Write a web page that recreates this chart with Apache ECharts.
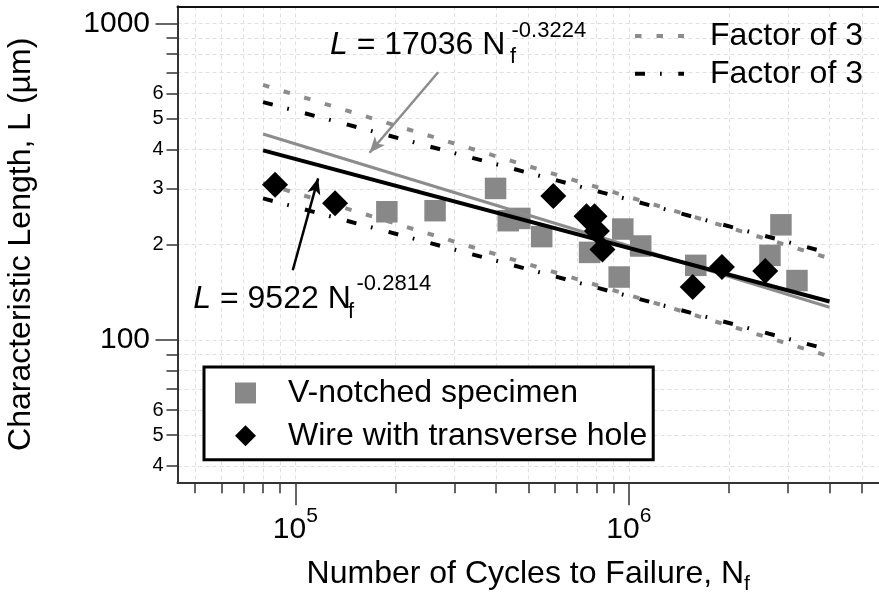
<!DOCTYPE html>
<html><head><meta charset="utf-8">
<script src="https://cdn.jsdelivr.net/npm/echarts@6/dist/echarts.min.js"></script>
<style>html,body{margin:0;padding:0;background:#fff}#c{width:879px;height:592px}</style>
</head><body><div id="c"></div>
<script>
// ---- data ----
const vNotchedN = [1.881e5, 2.624e5, 3.985e5, 4.349e5, 4.712e5, 5.48e5, 7.629e5, 9.594e5, 9.358e5, 1.086e6, 1.588e6, 2.651e6, 2.86e6, 3.195e6];
const vNotchedL = [254, 256, 301, 238, 242, 212, 189, 224, 158, 198, 172, 185, 231, 154];
const wireN = [8.69e4, 1.315e5, 5.937e5, 7.467e5, 7.891e5, 8.027e5, 8.338e5, 1.555e6, 1.903e6, 2.566e6];
const wireL = [309, 270, 285, 246, 246, 221, 193, 147, 170, 165];
const fitN = [8e4, 4e6];
const vFitL = [447, 126.8];     // L = 17036 Nf^-0.3224
const wireFitL = [397, 132.2];  // L = 9522 Nf^-0.2814
const vUpperL = [639, 181];
const vLowerL = [313, 88.7];
const wireUpperL = [564, 188];
const wireLowerL = [280, 93];
const xMajorTicks = [1e5, 1e6];
const xMinorTicks = [5e4, 6e4, 7e4, 8e4, 9e4, 2e5, 3e5, 4e5, 5e5, 6e5, 7e5, 8e5, 9e5, 2e6, 3e6, 4e6, 5e6];
const yMajorTicks = [100, 1000];
const yMinorTicks = [40, 50, 60, 70, 80, 90, 200, 300, 400, 500, 600, 700, 800, 900];
const yMinorLabels = [40, 50, 60, 200, 300, 400, 500, 600];
const xMin = 44300, xMax = 5.63e6, yMin = 35.5, yMax = 1132;
const grayArrow = [[2.68e5, 701], [1.669e5, 390]];
const blackArrow = [[9.82e4, 166], [1.17e5, 324]];

const FONT = "'Liberation Sans', Arial, Helvetica, sans-serif";
const zip = (a, b) => a.map((v, i) => [v, b[i]]);
const GRID_LINE = { show: true, lineStyle: { color: '#e0e0e0', width: 1, type: [4, 3] } };
const AXIS_COL = '#333';

const chart = echarts.init(document.getElementById('c'), null, { renderer: 'canvas' });

const logAxisBase = { type: 'log', logBase: 10, min: xMin, max: xMax, gridIndex: 0 };
const yLogBase = { type: 'log', logBase: 10, min: yMin, max: yMax, gridIndex: 0 };

const lineSeries = (name, ys, color, width, dash, z) => ({
  type: 'line', name, data: zip(fitN, ys), symbol: 'none', showSymbol: false,
  lineStyle: { color, width, type: dash, cap: 'butt', opacity: 1 }, itemStyle: { color, opacity: 0 },
  z, silent: true, animation: false
});

const option = {
  animation: false,
  backgroundColor: '#fff',
  textStyle: { fontFamily: FONT },
  grid: { left: 177.5, top: 6.3, right: 0, bottom: 109.7, containLabel: false, outerBoundsMode: 'none' },
  xAxis: [
    Object.assign({}, logAxisBase, {
      position: 'bottom',
      axisLine: { show: true, onZero: false, lineStyle: { color: AXIS_COL, width: 2 } },
      axisTick: { show: true, customValues: xMajorTicks, length: 23, lineStyle: { color: AXIS_COL, width: 1.5 } },
      axisLabel: {
        show: true, customValues: xMajorTicks, margin: 32, color: '#000',
        formatter: v => '{b|10}{s|' + Math.round(Math.log10(v)) + '}',
        rich: {
          b: { fontSize: 30, fontFamily: FONT, color: '#000', lineHeight: 30 },
          s: { fontSize: 21, fontFamily: FONT, color: '#000', verticalAlign: 'top', height: 3, lineHeight: 3 }
        }
      },
      splitLine: GRID_LINE,
      minorTick: { show: false }, minorSplitLine: { show: false },
      name: '{n|Number of Cycles to Failure, N}{s|f}',
      nameLocation: 'middle', nameGap: 76, nameMoveOverlap: false,
      nameTextStyle: {
        rich: {
          n: { fontSize: 32, fontFamily: FONT, color: '#000', lineHeight: 32 },
          s: { fontSize: 21, fontFamily: FONT, color: '#000', verticalAlign: 'bottom', height: 13, lineHeight: 13 }
        }
      }
    }),
    Object.assign({}, logAxisBase, {
      position: 'bottom',
      axisLine: { show: false, onZero: false },
      axisTick: { show: true, customValues: xMinorTicks, length: 11, lineStyle: { color: AXIS_COL, width: 1.5 } },
      axisLabel: { show: false },
      splitLine: GRID_LINE
    }),
    Object.assign({}, logAxisBase, {
      position: 'top',
      axisLine: { show: true, onZero: false, lineStyle: { color: '#111', width: 2 } },
      axisTick: { show: false }, axisLabel: { show: false }, splitLine: { show: false }
    })
  ],
  yAxis: [
    Object.assign({}, yLogBase, {
      position: 'left',
      axisLine: { show: true, onZero: false, lineStyle: { color: AXIS_COL, width: 2 } },
      axisTick: { show: true, customValues: yMajorTicks, length: 22, lineStyle: { color: AXIS_COL, width: 1.5 } },
      axisLabel: { show: true, customValues: yMajorTicks, margin: 27.5, fontSize: 30, fontFamily: FONT, color: '#000',
        formatter: v => String(Math.round(v)) },
      splitLine: GRID_LINE,
      name: 'Characteristic Length, L (µm)', nameLocation: 'middle', nameGap: 140, nameMoveOverlap: false,
      nameTextStyle: { fontSize: 32, fontFamily: FONT, color: '#000', lineHeight: 32 }
    }),
    Object.assign({}, yLogBase, {
      position: 'left',
      axisLine: { show: false, onZero: false },
      axisTick: { show: true, customValues: yMinorTicks, length: 11, lineStyle: { color: AXIS_COL, width: 1.5 } },
      axisLabel: { show: true, customValues: yMinorLabels, margin: 14, fontSize: 20, fontFamily: FONT, color: '#000',
        formatter: v => String(Math.round(v >= 100 ? v / 100 : v / 10)) },
      splitLine: GRID_LINE
    })
  ],
  legend: [
    {
      data: ['Factor of 3', 'Factor of 3 '],
      orient: 'vertical', left: 633, top: 20, padding: 0,
      itemWidth: 49, itemHeight: 14, itemGap: 5.7,
      selectedMode: false,
      itemStyle: { opacity: 0, borderWidth: 0 },
      lineStyle: { width: 4 },
      textStyle: { fontSize: 32, fontFamily: FONT, color: '#000', lineHeight: 30, padding: [0, 0, 0, 21] }
    },
    {
      data: ['V-notched specimen', 'Wire with transverse hole'],
      orient: 'vertical', left: 204, top: 367, padding: [10, 6, 8, 31],
      borderColor: '#000', borderWidth: 3, borderRadius: 0, backgroundColor: '#fff',
      itemWidth: 21, itemHeight: 21, itemGap: 10.7,
      selectedMode: false,
      itemStyle: { opacity: 1 },
      textStyle: { fontSize: 32, fontFamily: FONT, color: '#000', lineHeight: 30, padding: [0, 0, 0, 27] }
    }
  ],
  series: [
    { type: 'scatter', name: 'V-notched specimen', data: zip(vNotchedN, vNotchedL), symbol: 'rect', symbolSize: 21.5,
      itemStyle: { color: '#888888', opacity: 1 }, z: 2, silent: true },
    lineSeries('Factor of 3', vUpperL, '#8c8c8c', 4, [6.5, 15], 3),
    lineSeries('Factor of 3', vLowerL, '#8c8c8c', 4, [6.5, 15], 3),
    lineSeries('Factor of 3 ', wireUpperL, '#000', 4, [10, 15, 1.7, 16.6], 4),
    lineSeries('Factor of 3 ', wireLowerL, '#000', 4, [10, 15, 1.7, 16.6], 4),
    Object.assign(lineSeries('fitV', vFitL, '#8c8c8c', 3, 'solid', 5), {
      markLine: { silent: true, animation: false, symbol: ['none', 'arrow'], symbolSize: [10, 16],
        lineStyle: { color: '#8c8c8c', width: 2.5, type: 'solid', opacity: 1 }, itemStyle: { color: '#8c8c8c', opacity: 1 },
        label: { show: false },
        data: [[{ coord: grayArrow[0] }, { coord: grayArrow[1] }]] }
    }),
    Object.assign(lineSeries('fitWire', wireFitL, '#000', 4, 'solid', 6), {
      markLine: { silent: true, animation: false, symbol: ['none', 'arrow'], symbolSize: [10, 16],
        lineStyle: { color: '#000', width: 2.5, type: 'solid', opacity: 1 }, itemStyle: { color: '#000', opacity: 1 },
        label: { show: false },
        data: [[{ coord: blackArrow[0] }, { coord: blackArrow[1] }]] }
    }),
    { type: 'scatter', name: 'Wire with transverse hole', data: zip(wireN, wireL), symbol: 'diamond', symbolSize: 26,
      itemStyle: { color: '#000', opacity: 1 }, z: 7, silent: true }
  ],
  graphic: [
    { type: 'text', x: 330, y: 45.5, z: 100, style: { text: '{i|L} = 17036 N', fontSize: 32, fontFamily: FONT, fill: '#000',
        align: 'left', verticalAlign: 'middle', rich: { i: { fontStyle: 'italic', fontSize: 32, fontFamily: FONT } } } },
    { type: 'text', x: 510, y: 57, z: 100, style: { text: 'f', fontSize: 22, fontFamily: FONT, fill: '#000', align: 'left', verticalAlign: 'middle' } },
    { type: 'text', x: 511.5, y: 31, z: 100, style: { text: '-0.3224', fontSize: 22, fontFamily: FONT, fill: '#000', align: 'left', verticalAlign: 'middle' } },
    { type: 'text', x: 193.3, y: 299.5, z: 100, style: { text: '{i|L} = 9522 N', fontSize: 32, fontFamily: FONT, fill: '#000',
        align: 'left', verticalAlign: 'middle', rich: { i: { fontStyle: 'italic', fontSize: 32, fontFamily: FONT } } } },
    { type: 'text', x: 348, y: 312, z: 100, style: { text: 'f', fontSize: 22, fontFamily: FONT, fill: '#000', align: 'left', verticalAlign: 'middle' } },
    { type: 'text', x: 356.5, y: 284, z: 100, style: { text: '-0.2814', fontSize: 22, fontFamily: FONT, fill: '#000', align: 'left', verticalAlign: 'middle' } }
  ]
};
chart.setOption(option);
</script></body></html>
